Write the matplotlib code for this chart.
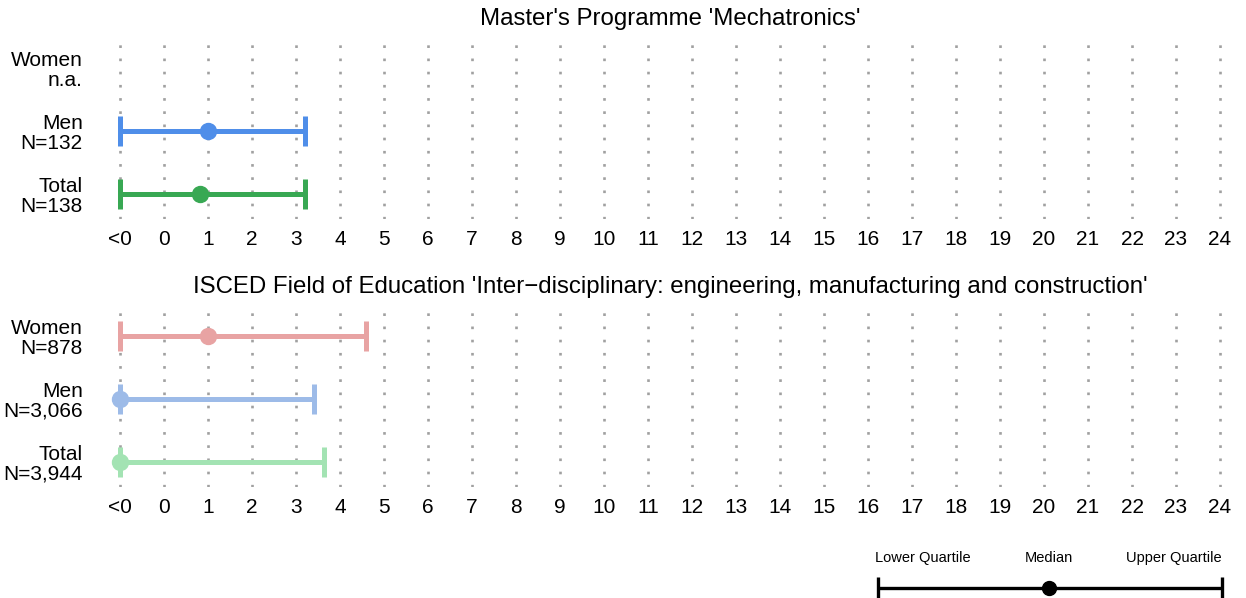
import matplotlib
matplotlib.use("Agg")
import matplotlib.pyplot as plt

plt.rcParams['font.family'] = ['Liberation Sans', 'DejaVu Sans']

W, H = 1246, 598

# x positions: "<0" is drawn at -1
tick_pos = list(range(-1, 25))
tick_labels = ["<0"] + [str(i) for i in range(0, 25)]

titles = ["Master's Programme 'Mechatronics'",
          "ISCED Field of Education 'Inter\u2212disciplinary: engineering, manufacturing and construction'"]

row_labels_top = ["Women\nn.a.", "Men\nN=132", "Total\nN=138"]
row_labels_bot = ["Women\nN=878", "Men\nN=3,066", "Total\nN=3,944"]

# lower quartile, median, upper quartile (None = not available)
lower_top = [None, -1, -1]
median_top = [None, 1.0, 0.82]
upper_top = [None, 3.2, 3.2]
colors_top = [None, "#4f8ee9", "#38a853"]

lower_bot = [-1, -1, -1]
median_bot = [1.0, -1, -1]
upper_bot = [4.6, 3.42, 3.63]
colors_bot = ["#e8a3a3", "#9dbbe8", "#a3e3b3"]


def px_axes(top, bottom, left=98, right=1242):
    return [left / W, 1 - bottom / H, (right - left) / W, (bottom - top) / H]


def draw_panel(ax, title, labels, lo, med, hi, cols):
    ax.set_xlim(-1.5, 24.5)
    ax.set_ylim(0.6, 3.4)
    for x in tick_pos:
        ax.axvline(x, color="#a0a0a0", lw=1.9, ls=(0, (1, 4.0)), zorder=0)
    ys = [3, 2, 1]
    for y, l, m, h, c in zip(ys, lo, med, hi, cols):
        if m is None:
            continue
        ax.errorbar([m], [y], xerr=[[m - l], [h - m]], fmt='o', color=c,
                    ms=11.5, elinewidth=3.6, capsize=11, capthick=3.6, zorder=3)
    ax.set_xticks(tick_pos)
    ax.set_xticklabels(tick_labels, fontsize=15)
    ax.set_yticks(ys)
    ax.set_yticklabels(labels, fontsize=15, linespacing=1.05)
    ax.tick_params(length=0, axis='x', pad=8)
    ax.tick_params(length=0, axis='y', pad=11)
    for s in ax.spines.values():
        s.set_visible(False)
    ax.text(0.5, 1 + 24 / 176, title, transform=ax.transAxes,
            ha='center', va='center', fontsize=17.3)


fig = plt.figure(figsize=(W / 100, H / 100), dpi=100)

ax1 = fig.add_axes(px_axes(43, 219))
draw_panel(ax1, titles[0], row_labels_top, lower_top, median_top, upper_top, colors_top)

ax2 = fig.add_axes(px_axes(311, 487))
draw_panel(ax2, titles[1], row_labels_bot, lower_bot, median_bot, upper_bot, colors_bot)

# key at the bottom right
leg_names = ["Lower Quartile", "Median", "Upper Quartile"]
leg_vals = [0.0, 0.497, 1.0]
axl = fig.add_axes([878 / W, 0, 344 / W, 58 / H])
axl.set_xlim(0, 1)
axl.set_ylim(0, 58)
axl.axis('off')
axl.errorbar([leg_vals[1]], [10], xerr=[[leg_vals[1] - leg_vals[0]], [leg_vals[2] - leg_vals[1]]],
             fmt='o', color='black', ms=10, elinewidth=2.4, capsize=8, capthick=2.4, clip_on=False)
axl.text(leg_vals[0] - 0.01, 40, leg_names[0], ha='left', va='center', fontsize=10.5)
axl.text(leg_vals[1], 40, leg_names[1], ha='center', va='center', fontsize=10.5)
axl.text(leg_vals[2], 40, leg_names[2], ha='right', va='center', fontsize=10.5)

fig.savefig("out.png", dpi=100)
